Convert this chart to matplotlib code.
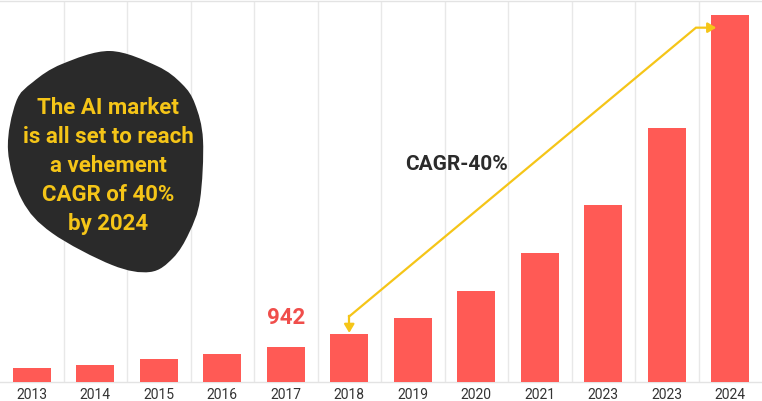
import numpy as np
import matplotlib
matplotlib.use("Agg")
import matplotlib.pyplot as plt
from matplotlib.path import Path
from matplotlib.patches import PathPatch

plt.rcParams['font.family'] = ['Roboto', 'DejaVu Sans']

years = ["2013", "2014", "2015", "2016", "2017", "2018",
         "2019", "2020", "2021", "2023", "2023", "2024"]
values = [366, 454, 606, 739, 942, 1281, 1716, 2429, 3443, 4725, 6780, 9800]
highlight_label = "942"
highlight_index = 4
cagr_label = "CAGR-40%"
blob_text = "The AI market\nis all set to reach\na vehement\nCAGR of 40%\nby 2024"

W, H = 762, 401
fig = plt.figure(figsize=(W / 100, H / 100), dpi=100)
ax = fig.add_axes([0, 19 / H, 1, 381 / H])

x = np.arange(len(years))
ax.bar(x, values, width=0.6, color="#ff5a55", zorder=3)
ax.set_xlim(-0.5, len(years) - 0.5)
ax.set_ylim(0, 10170)

ax.set_xticks(x)
ax.set_xticklabels(years, fontsize=10, color="#333333")
ax.tick_params(axis="x", length=0, pad=4.5)
ax.set_yticks([])
ax.set_xticks(x[:-1] + 0.5, minor=True)
ax.tick_params(axis="x", which="minor", length=0)
ax.grid(axis="x", which="minor", color="#e8e8e8", linewidth=1, zorder=0)
for s in ["left", "right"]:
    ax.spines[s].set_visible(False)
for s in ["top", "bottom"]:
    ax.spines[s].set_color("#e3e3e3")
    ax.spines[s].set_linewidth(1)

# value label
ax.text(highlight_index, values[highlight_index] + 480, highlight_label,
        ha="center", va="bottom", fontsize=16, fontweight="bold",
        color="#f04e4b", zorder=5)

# CAGR arrow path (data coordinates built from bar positions / values)
ymax = ax.get_ylim()[1]
start = (5, values[5] + 30)
corner1 = (5, values[5] + 470)
corner2 = (10.46, ymax * 0.93)
end = (10.78, ymax * 0.93)
yel = "#f5c518"
ax.plot([corner1[0], corner2[0], end[0] - 0.08],
        [corner1[1], corner2[1], end[1]], color=yel, lw=1.6, zorder=4,
        solid_joinstyle="miter")
ax.plot([corner1[0], start[0]], [corner1[1], start[1] + 150], color=yel, lw=1.6, zorder=4)
ax.annotate("", xy=start, xytext=(start[0], start[1] + 200),
            arrowprops=dict(arrowstyle="-|>,head_length=0.5,head_width=0.3",
                            color=yel, lw=1.6, shrinkA=0, shrinkB=0), zorder=4)
ax.annotate("", xy=end, xytext=(end[0] - 0.1, end[1]),
            arrowprops=dict(arrowstyle="-|>,head_length=0.5,head_width=0.3",
                            color=yel, lw=1.6, shrinkA=0, shrinkB=0), zorder=4)

fig.text(457 / W, 1 - 164 / H, cagr_label, ha="center", va="center",
         fontsize=15, fontweight="bold", color="#2b2b2b")

# decorative blob (figure pixel coordinates)
pts = np.array([(110, 51), (157, 66), (182, 84), (195, 104), (203, 140),
                (200, 200), (189, 233), (173, 258), (150, 272), (112, 265),
                (52, 233), (22, 200), (8, 150), (16, 102), (33, 82), (62, 64)],
               dtype=float)
n = len(pts)
verts = [pts[0]]
codes = [Path.MOVETO]
for i in range(n):
    p0, p1, p2, p3 = pts[i - 1], pts[i], pts[(i + 1) % n], pts[(i + 2) % n]
    c1 = p1 + (p2 - p0) / 6
    c2 = p2 - (p3 - p1) / 6
    verts += [c1, c2, p2]
    codes += [Path.CURVE4] * 3
verts = np.array(verts)
verts[:, 0] /= W
verts[:, 1] = 1 - verts[:, 1] / H
blob = PathPatch(Path(verts, codes), facecolor="#2a2a2a", edgecolor="none",
                 transform=fig.transFigure, zorder=6)
fig.patches.append(blob)

fig.text(108 / W, 1 - 166 / H, blob_text, ha="center", va="center",
         fontsize=16, fontweight="bold", color="#f5c518", linespacing=1.4,
         zorder=7)

fig.savefig("out.png", dpi=100)
